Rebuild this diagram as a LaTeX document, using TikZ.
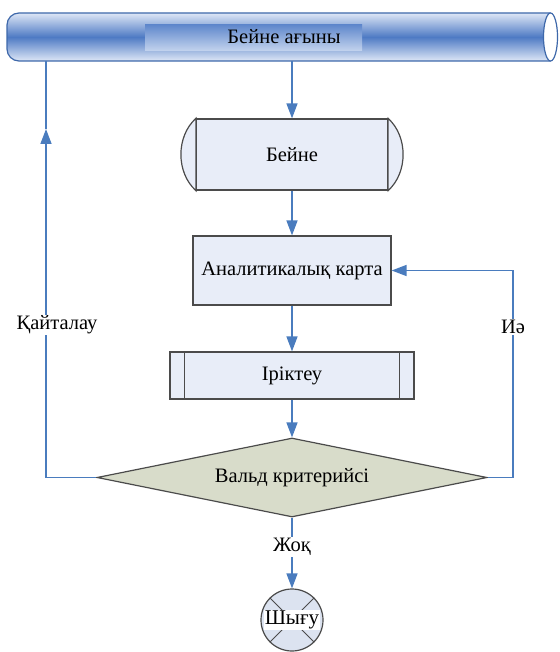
\documentclass[tikz,border=0pt]{standalone}
\usepackage{fontspec}
\setmainfont{Liberation Serif}
\usetikzlibrary{arrows.meta,shapes.geometric}
\definecolor{linkblue}{RGB}{74,124,190}
\definecolor{boxedge}{RGB}{75,75,75}
\definecolor{boxfill}{RGB}{232,237,248}
\definecolor{diafill}{RGB}{216,220,202}
\definecolor{exitfill}{RGB}{220,227,240}
\definecolor{pipeedge}{RGB}{62,104,170}
\definecolor{pipelight}{RGB}{222,231,246}
\definecolor{pipedark}{RGB}{78,122,196}
\definecolor{bandtop}{RGB}{96,136,204}
\definecolor{bandbot}{RGB}{196,212,238}

\begin{document}
\begin{tikzpicture}[x=1pt,y=-1pt,
  box/.style={draw=boxedge,fill=boxfill,line width=1.2pt,inner sep=0pt,font=\fontsize{20.5}{24}\selectfont},
  boxline/.style={draw=boxedge,line width=1.2pt},
  link/.style={draw=linkblue,line width=1.5pt,-{Triangle[width=11pt,length=15pt]}},
  plain/.style={draw=linkblue,line width=1.5pt},
  tag/.style={fill=white,inner sep=1pt,font=\fontsize{20.5}{24}\selectfont}]
\useasboundingbox (0,0) rectangle (559,652);
\draw[draw=pipeedge,line width=1.2pt,top color=pipelight,bottom color=pipelight,middle color=pipedark]
  (550,13) [rounded corners=12pt] -- (7,13) -- (7,61) [sharp corners] -- (550,61) -- cycle;
\fill[top color=bandtop,bottom color=bandbot] (145,25) rectangle (362,51);
\draw[draw=pipeedge,line width=1.2pt,fill=white] (550.5,37) ellipse[x radius=7,y radius=24];
\node[minimum width=543pt,minimum height=48pt,inner sep=0pt] (stream) at (278.5,37) {};
\node[inner sep=0pt,font=\fontsize{20.5}{24}\selectfont] (streamtxt) at (284,37) {Бейне ағыны};
\node[box,minimum width=191pt,minimum height=71pt] (vid) at (292,154.5) {Бейне};
\draw[boxline,fill=boxfill] (vid.north west) .. controls +(-20,18) and +(-20,-18) .. (vid.south west) -- cycle;
\draw[boxline,fill=boxfill] (vid.north east) .. controls +(20,18) and +(20,-18) .. (vid.south east) -- cycle;
\node[box,minimum width=198pt,minimum height=69pt] (map) at (292,270.5) {Аналитикалық карта};
\node[box,minimum width=244pt,minimum height=47pt] (sel) at (292,375.5) {Іріктеу};
\draw[boxline] ([xshift=15pt]sel.north west) -- ([xshift=15pt]sel.south west);
\draw[boxline] ([xshift=-15pt]sel.north east) -- ([xshift=-15pt]sel.south east);
\node[diamond,aspect=4.9,draw=boxedge,fill=diafill,line width=1.2pt,inner sep=0pt,
  minimum width=390pt,minimum height=79pt,font=\fontsize{20.5}{24}\selectfont] (dia) at (292,477.5) {Вальд критерийсі};
\node[circle,draw=boxedge,fill=exitfill,line width=1.2pt,minimum size=62pt,inner sep=0pt] (ex) at (292,620) {};
\draw[boxline,line width=0.8pt] (ex.north west) -- (ex.south east);
\draw[boxline,line width=0.8pt] (ex.north east) -- (ex.south west);
\node[tag,font=\fontsize{21}{24}\selectfont] (extxt) at (ex) {Шығу};
\coordinate (yesx) at (513,0);
\coordinate (backtip) at (46,129);
\draw[link] (stream.south -| vid.north) -- (vid.north);
\draw[link] (vid.south) -- (map.north);
\draw[link] (map.south) -- (sel.north);
\draw[link] (sel.south) -- (dia.north);
\draw[link] (dia.south) -- (ex.north);
\draw[link] (dia.west) -| (backtip);
\draw[plain] (backtip) -- (stream.south -| backtip);
\draw[link] (dia.east) -| (yesx |- map.east) -- (map.east);
\node[tag] (again) at (57,325) {Қайталау};
\node[tag] (yes) at (513,327) {Иә};
\node[tag] (no) at (292,547) {Жоқ};
\end{tikzpicture}
\end{document}
